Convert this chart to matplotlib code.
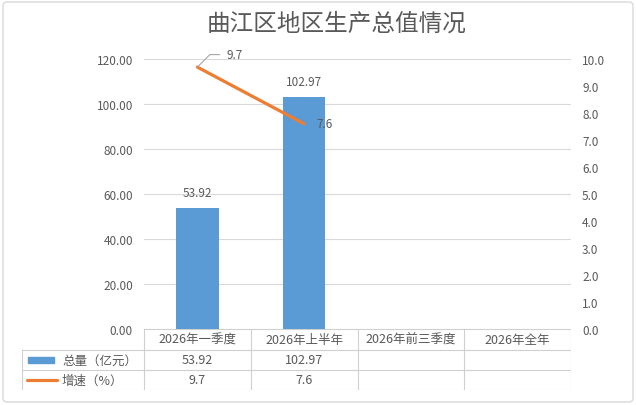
import matplotlib.pyplot as plt
from matplotlib.patches import FancyBboxPatch, Rectangle

plt.rcParams['font.family'] = ['Noto Sans CJK SC', 'DejaVu Sans']

# 数据
categories = ["2026年一季度", "2026年上半年", "2026年前三季度", "2026年全年"]
total = [53.92, 102.97, None, None]      # 总量（亿元）
growth = [9.7, 7.6, None, None]          # 增速（%）
row_labels = ["总量（亿元）", "增速（%）"]
title = "曲江区地区生产总值情况"

bar_color = "#5B9BD5"
line_color = "#ED7D31"
text_color = "#595959"
grid_color = "#D9D9D9"

W, H = 636, 406
fig = plt.figure(figsize=(W / 100, H / 100), dpi=100)


def px_box(x0, y0, x1, y1):
    # 像素坐标（左上原点）转成 figure 坐标
    return [x0 / W, 1 - y1 / H, (x1 - x0) / W, (y1 - y0) / H]


# 外框
fig.patches.append(FancyBboxPatch((3 / W, 3 / H), 1 - 6 / W, 1 - 6 / H,
                                  boxstyle="round,pad=0,rounding_size=0.008",
                                  transform=fig.transFigure, fill=False,
                                  edgecolor="#D9D9D9", linewidth=1))

fig.text(337 / W, 1 - 24 / H, title, ha="center", va="center", fontsize=17, color=text_color)

# 主图
ax = fig.add_axes(px_box(144, 60, 571, 330))
bx = [i for i, v in enumerate(total) if v is not None]
bv = [v for v in total if v is not None]
ax.bar(bx, bv, width=0.4, color=bar_color, zorder=2)
for i, v in zip(bx, bv):
    ax.text(i, v + 4, f"{v:.2f}", ha="center", va="bottom", fontsize=8.5, color=text_color)
ax.set_xlim(-0.5, len(categories) - 0.5)
ax.set_ylim(0, 120)
ax.set_yticks(range(0, 121, 20))
ax.set_yticklabels([f"{t:.2f}" for t in range(0, 121, 20)])
ax.set_xticks([])
ax.grid(axis="y", color=grid_color, linewidth=0.8, zorder=0)
for s in ax.spines.values():
    s.set_visible(False)
ax.tick_params(axis="y", length=0, labelsize=8.5, labelcolor=text_color, pad=8)

ax2 = ax.twinx()
lx = [i for i, v in enumerate(growth) if v is not None]
lv = [v for v in growth if v is not None]
ax2.plot(lx, lv, color=line_color, linewidth=2.3, solid_capstyle="round", zorder=3)
ax2.set_ylim(0, 10)
ax2.set_yticks(range(0, 11))
ax2.set_yticklabels([f"{t:.1f}" for t in range(0, 11)])
for s in ax2.spines.values():
    s.set_visible(False)
ax2.tick_params(axis="y", length=0, labelsize=8.5, labelcolor=text_color, pad=8)

# 增速标签
ax2.annotate(f"{lv[0]}", xy=(lx[0], lv[0]), xytext=(21, 9), textcoords="offset points",
             fontsize=8.5, color=text_color, va="center", ha="left",
             arrowprops=dict(arrowstyle="-", color="#A6A6A6", linewidth=0.8,
                             connectionstyle="angle,angleA=0,angleB=45,rad=0",
                             shrinkA=3, shrinkB=0))
ax2.annotate(f"{lv[1]}", xy=(lx[1], lv[1]), xytext=(9, 0), textcoords="offset points",
             fontsize=8.5, color=text_color, va="center", ha="left")

# 数据表
tx0, tx1, ty0, ty1 = 22, 571, 330, 391
tax = fig.add_axes(px_box(tx0, ty0, tx1, ty1))
tax.set_xlim(tx0, tx1)
tax.set_ylim(ty1, ty0)
tax.axis("off")
col_w = (571 - 144) / len(categories)
row_y = [330, 351, 371, 391]
lc = "#D0D0D0"
# 横线
tax.plot([144, 571], [row_y[0]] * 2, color=lc, lw=0.8)
for yy in row_y[1:]:
    tax.plot([tx0, 571], [yy] * 2, color=lc, lw=0.8)
# 竖线
tax.plot([tx0, tx0], [row_y[1], row_y[3]], color=lc, lw=0.8)
for k in range(len(categories) + 1):
    xx = 144 + k * col_w
    tax.plot([xx, xx], [row_y[0], row_y[3]], color=lc, lw=0.8)

for k, c in enumerate(categories):
    tax.text(144 + (k + 0.5) * col_w, (row_y[0] + row_y[1]) / 2, c,
             ha="center", va="center", fontsize=9, color=text_color)
for k, v in enumerate(total):
    if v is not None:
        tax.text(144 + (k + 0.5) * col_w, (row_y[1] + row_y[2]) / 2, f"{v:.2f}",
                 ha="center", va="center", fontsize=9, color=text_color)
for k, v in enumerate(growth):
    if v is not None:
        tax.text(144 + (k + 0.5) * col_w, (row_y[2] + row_y[3]) / 2, f"{v}",
                 ha="center", va="center", fontsize=9, color=text_color)

# 图例
ym1 = (row_y[1] + row_y[2]) / 2
ym2 = (row_y[2] + row_y[3]) / 2
tax.add_patch(Rectangle((28, ym1 - 3), 26, 6, color=bar_color))
tax.plot([27, 57], [ym2, ym2], color=line_color, lw=2.3, solid_capstyle="round")
tax.text(62, ym1, row_labels[0], ha="left", va="center", fontsize=9, color=text_color)
tax.text(62, ym2, row_labels[1], ha="left", va="center", fontsize=9, color=text_color)

fig.savefig("out.png", dpi=100)
